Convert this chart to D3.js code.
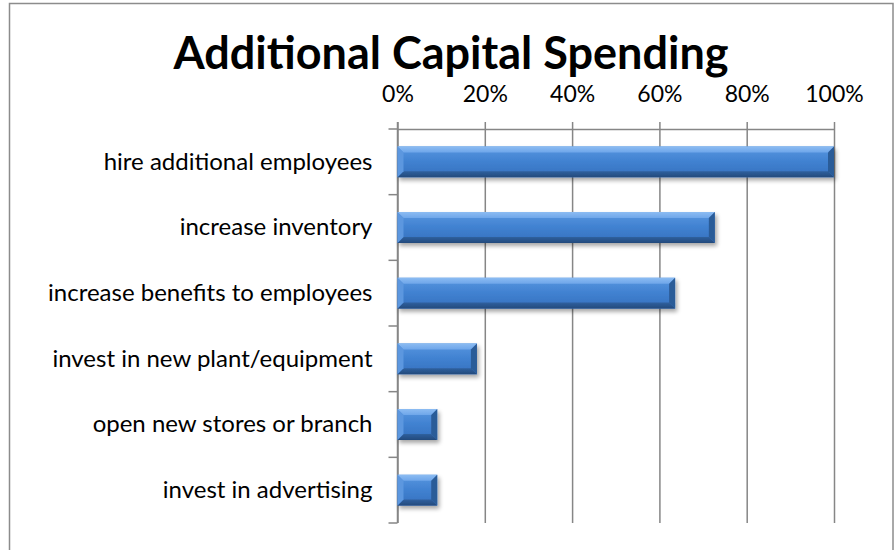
<!DOCTYPE html>
<html>
<head>
<meta charset="utf-8">
<script src="https://cdn.jsdelivr.net/npm/d3@7"></script>
<style>
  html, body { margin: 0; padding: 0; background: #ffffff; }
  svg { display: block; }
  text { font-family: Lato, "Open Sans", sans-serif; fill: #000; }
</style>
</head>
<body>
<svg id="chart" width="894" height="550"></svg>
<script>
// Survey answers: share of respondents planning each use of extra capital
const categories = [
  "hire additional employees",
  "increase inventory",
  "increase benefits to employees",
  "invest in new plant/equipment",
  "open new stores or branch",
  "invest in advertising"
];
const shares = [1.0, 0.727, 0.636, 0.182, 0.091, 0.091];
const tickValues = [0, 0.2, 0.4, 0.6, 0.8, 1.0];
const tickLabels = ["0%", "20%", "40%", "60%", "80%", "100%"];
const title = "Additional Capital Spending";

const svg = d3.select("#chart");
const W = 894, H = 550;
const plot = { left: 397.5, right: 834, top: 129, bottom: 523 };

// chart frame
svg.append("rect")
  .attr("x", 9.5).attr("y", 3.5)
  .attr("width", W - 9.5 - 1).attr("height", H + 10)
  .attr("fill", "#fff").attr("stroke", "#8c8c8c").attr("stroke-width", 1.5);

const defs = svg.append("defs");
const body = defs.append("linearGradient").attr("id", "barBody")
  .attr("x1", 0).attr("y1", 0).attr("x2", 0).attr("y2", 1);
[[0, "#5a97e0"], [0.45, "#4283d2"], [1, "#3470be"]].forEach(([o, c]) =>
  body.append("stop").attr("offset", o).attr("stop-color", c));
const topB = defs.append("linearGradient").attr("id", "barTop")
  .attr("x1", 0).attr("y1", 0).attr("x2", 0).attr("y2", 1);
[[0, "#8cbcf2"], [1, "#6ea6ea"]].forEach(([o, c]) =>
  topB.append("stop").attr("offset", o).attr("stop-color", c));
const botB = defs.append("linearGradient").attr("id", "barBot")
  .attr("x1", 0).attr("y1", 0).attr("x2", 0).attr("y2", 1);
[[0, "#2f609e"], [1, "#234a7c"]].forEach(([o, c]) =>
  botB.append("stop").attr("offset", o).attr("stop-color", c));
const shadow = defs.append("filter").attr("id", "shadow")
  .attr("x", "-10%").attr("y", "-30%").attr("width", "130%").attr("height", "180%");
shadow.append("feGaussianBlur").attr("in", "SourceAlpha").attr("stdDeviation", 2.2);
shadow.append("feOffset").attr("dx", 1.5).attr("dy", 3).attr("result", "off");
shadow.append("feComponentTransfer").append("feFuncA").attr("type", "linear").attr("slope", 0.35);
const merge = shadow.append("feMerge");
merge.append("feMergeNode");
merge.append("feMergeNode").attr("in", "SourceGraphic");

const x = d3.scaleLinear().domain([0, 1]).range([plot.left, plot.right]);
const y = d3.scaleBand().domain(categories).range([plot.top, plot.bottom])
  .paddingInner(0.53).paddingOuter(0.265);

// title
svg.append("text")
  .attr("x", 451).attr("y", 69)
  .attr("text-anchor", "middle")
  .attr("font-size", 45).attr("font-weight", 700)
  .text(title);

// value axis on top, with gridlines
const xAxis = d3.axisTop(x).tickValues(tickValues)
  .tickFormat((d, i) => tickLabels[i])
  .tickSize(-(plot.bottom - plot.top)).tickSizeOuter(0).tickPadding(0);
const gx = svg.append("g").attr("transform", `translate(0,${plot.top})`).call(xAxis);
gx.select(".domain").attr("stroke", "#868686").attr("stroke-width", 1.5);
gx.selectAll(".tick line")
  .attr("y1", -7)
  .attr("stroke", "#868686").attr("stroke-width", 1.5);
gx.selectAll(".tick text")
  .attr("y", -27).attr("dy", 0)
  .style("font-size", "23px").style("font-family", "Lato, sans-serif").attr("fill", "#000");

// category axis on the left
const yAxis = d3.axisLeft(y).tickSize(0).tickPadding(25);
const gy = svg.append("g").attr("transform", `translate(${plot.left},0)`).call(yAxis);
gy.select(".domain").attr("d", `M0,${plot.top - 7}V${plot.bottom}`)
  .attr("stroke", "#868686").attr("stroke-width", 1.5);
gy.selectAll(".tick text")
  .style("font-size", "24px").style("font-family", "Lato, sans-serif").attr("fill", "#000");
// category boundary ticks
const bounds = categories.map(c => y(c) - y.step() * y.paddingInner() / 2);
bounds[0] = plot.top;
bounds.push(plot.bottom);
gy.selectAll(".bound").data(bounds).join("line").attr("class", "bound")
  .attr("x1", -9).attr("x2", 0).attr("y1", d => d).attr("y2", d => d)
  .attr("stroke", "#868686").attr("stroke-width", 1.5);

// bevelled bars
const bev = 6;
const bars = svg.append("g").selectAll("g.bar")
  .data(categories.map((c, i) => ({ c, v: shares[i] })))
  .join("g").attr("class", "bar").attr("filter", "url(#shadow)");
bars.each(function(d) {
  const g = d3.select(this);
  const x0 = x(0), x1 = x(d.v), y0 = y(d.c), y1 = y0 + y.bandwidth();
  const b = Math.min(bev, (x1 - x0) / 2);
  g.append("rect").attr("x", x0).attr("y", y0)
    .attr("width", x1 - x0).attr("height", y1 - y0).attr("fill", "url(#barBody)");
  g.append("path").attr("fill", "url(#barTop)")
    .attr("d", `M${x0},${y0}H${x1}L${x1 - b},${y0 + b}H${x0 + b}Z`);
  g.append("path").attr("fill", "url(#barBot)")
    .attr("d", `M${x0},${y1}H${x1}L${x1 - b},${y1 - b}H${x0 + b}Z`);
  g.append("path").attr("fill", "#5c97df")
    .attr("d", `M${x0},${y0}L${x0 + b},${y0 + b}V${y1 - b}L${x0},${y1}Z`);
  g.append("path").attr("fill", "#2c5c98")
    .attr("d", `M${x1},${y0}L${x1 - b},${y0 + b}V${y1 - b}L${x1},${y1}Z`);
});
</script>
</body>
</html>
